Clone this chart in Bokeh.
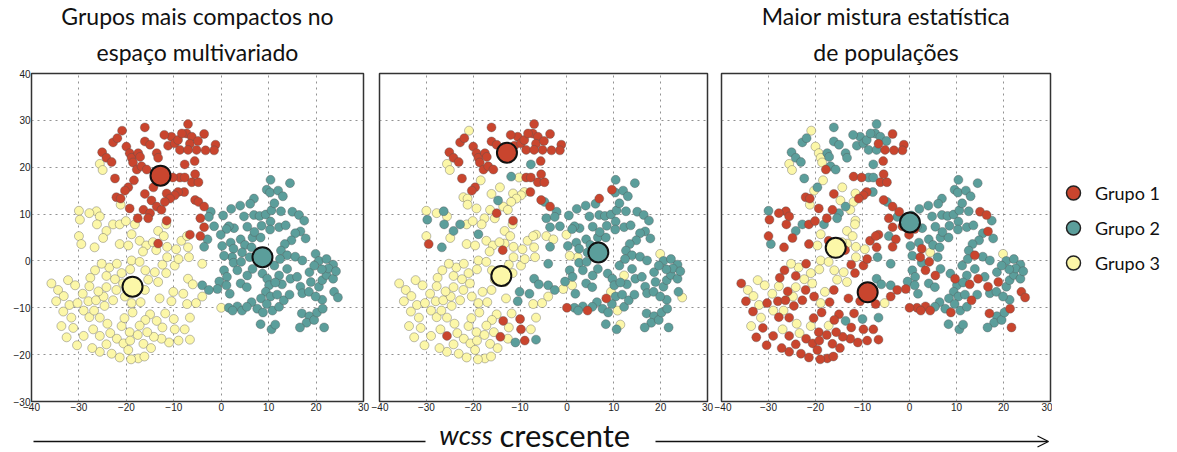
from bokeh.plotting import figure
from bokeh.models import Range1d, Label, Legend, LegendItem, Arrow, OpenHead, FixedTicker, Title
from bokeh.layouts import row, column
from bokeh.embed import file_html
from bokeh.resources import INLINE

# ---------------- data ----------------
# points of the multivariate space (same cloud in all three panels)
# panel-1 group 1 (red) region
g1_x = [-20.9, -22.8, -21.9, -20.0, -16.1, -16.1, -15.0, -11.2, -10.5, -9.8,
        -9.1, -7.0, -7.3, -6.2, -6.6, -4.9, -8.3, -3.6, -1.2, -12.0,
        -25.1, -24.2, -23.1, -19.3, -18.9, -17.5, -18.6, -17.8, -16.8, -15.7,
        -17.1, -13.6, -13.3, -8.7, -5.2, -7.0, -7.7, -5.6, -1.5, -3.3,
        -8.7, -7.7, -6.2, -4.8, -5.5, -11.9, -10.2, -22.4, -19.6, -20.3,
        -18.4, -14.3, -16.1, -7.8, -9.1, -9.8, -11.5, -22.1, -21.2, -5.5,
        -4.8, -3.6, -10.8, -11.9, -14.7, -13.6, -12.6, -16.4, -15.0, -19.3,
        -15.4, -17.6, -11.5, -4.4, -3.6, -4.4, -6.6, -13.3]
g1_y = [27.8, 25.3, 26.2, 24.4, 28.5, 25.5, 24.8, 24.6, 26.5, 25.1,
        25.8, 29.2, 27.2, 26.5, 25.0, 25.6, 27.2, 27.1, 24.8, 26.9,
        23.2, 22.0, 21.1, 23.0, 22.0, 23.0, 21.0, 19.5, 20.2, 19.5,
        22.2, 23.0, 22.0, 23.7, 23.7, 23.7, 20.6, 21.3, 23.6, 23.6,
        17.8, 17.8, 16.8, 16.8, 18.5, 18.0, 17.8, 17.6, 15.7, 15.0,
        17.2, 15.7, 14.3, 14.7, 14.7, 14.0, 14.4, 13.6, 13.3, 13.0,
        12.6, 11.6, 13.3, 12.6, 12.9, 11.6, 10.9, 10.9, 10.2, 11.2,
        9.1, 9.1, 8.6, 9.1, 7.2, 5.3, 5.6, 3.7]

# panel-1 group 2 (teal) region
g2_x = [10.4, 14.5, 9.6, 10.3, 12.0, 13.0, 6.9, 6.1, 4.0, 2.1,
        0.4, 4.8, 6.9, 8.1, 9.4, 10.6, 11.2, 10.4, 10.3, 12.2,
        13.6, 15.0, 16.4, 17.5, 16.7, 17.8, 15.6, 14.8, 13.4, 12.6,
        13.9, 15.6, 19.9, 20.6, 22.2, 2.7, 1.6, 1.1, -1.5, -0.1,
        0.2, 2.0, 2.6, 4.1, 5.0, 6.6, 8.3, 6.4, 4.4, 2.3,
        -2.2, -2.6, -2.9, -3.6, 5.5, 8.5, 7.0, 12.6, 0.6, 2.6,
        4.2, 6.0, 0.6, 1.2, -0.4, -0.8, -4.0, -2.6, 1.8, 1.1,
        3.4, 4.1, 5.4, 5.5, 6.6, 8.7, 9.7, 10.1, 9.4, 10.4,
        11.8, 8.4, 9.6, 7.6, 8.8, 6.4, 10.8, 12.2, 13.2, 14.4,
        12.2, 12.8, 13.9, 14.6, 11.2, 12.4, 17.1, 16.0, 16.7, 17.1,
        18.5, 18.9, 18.6, 20.6, 21.3, 21.3, 22.2, 23.6, 23.8, 24.6,
        23.6, 22.6, 21.2, 24.2, 19.6, 17.0, 18.6, 18.0, 19.6, 20.2,
        21.4, 21.7, 16.6, 8.3, 10.6, 11.4, 3.4, 4.4, 5.4, 1.6,
        2.4, 19.9, 11.4]
g2_y = [17.3, 16.6, 15.2, 14.6, 15.0, 13.8, 13.3, 12.2, 11.8, 11.1,
        9.7, 9.5, 9.8, 9.6, 9.9, 10.8, 12.3, 8.4, 6.7, 7.2,
        7.6, 10.5, 9.8, 8.6, 6.3, 4.8, 5.9, 4.4, 3.6, 2.2,
        1.2, 0.9, 1.5, 0.0, 0.4, 7.0, 7.4, 6.8, 7.4, 5.6,
        3.2, 3.9, 2.6, 4.6, 3.4, 5.0, 5.0, 2.9, 1.8, 0.8,
        10.5, 9.4, 4.6, 3.0, 7.3, 7.5, 6.2, 10.6, 1.1, -0.4,
        -0.2, 0.8, -2.0, -3.4, -4.4, -6.0, -5.2, -6.2, -7.0, -5.2,
        -2.0, -4.8, -5.6, -3.1, -1.7, -2.7, -3.8, -5.2, -6.6, -7.6,
        -7.2, -8.0, -9.2, -10.2, -11.0, -8.8, -10.6, -9.8, -8.4, -7.2,
        -3.1, -5.0, -1.7, -3.8, -1.0, 0.4, 0.1, -3.4, -5.5, -6.9,
        -6.6, -4.5, -2.4, -5.5, -4.1, -8.3, -3.0, -3.8, -6.6, -7.8,
        -0.8, -1.6, -1.8, -2.2, -1.0, -11.2, -11.8, -13.2, -12.6, -11.0,
        -10.2, -14.2, -14.2, -13.5, -14.6, -13.6, -9.7, -10.6, -9.8, -10.0,
        -10.6, -7.6, -4.6]

# panel-1 group 3 (yellow) region
g3_x = [-25.6, -25.0, -30.0, -29.8, -30.0, -29.5, -26.3, -25.6, -26.2, -24.2,
        -24.9, -22.8, -21.4, -20.1, -18.2, -18.9, -21.4, -19.6, -17.2, -15.8,
        -14.4, -13.3, -12.1, -11.6, -8.4, -7.2, -7.0, -26.7, -13.7, -16.5,
        -27.8, -21.2, -11.4, -9.5, -35.8, -34.4, -33.2, -34.8, -32.0, -32.3,
        -30.8, -29.2, -31.6, -33.3, -33.7, -31.2, -32.6, -30.3, -29.0, -27.8,
        -28.0, -26.8, -26.4, -24.6, -24.8, -25.9, -24.2, -25.6, -24.0, -27.0,
        -29.0, -25.6, -23.4, -22.0, -24.2, -25.6, -23.1, -21.4, -20.6, -19.6,
        -19.3, -21.0, -20.4, -18.7, -18.9, -20.3, -20.7, -22.1, -22.4, -24.2,
        -23.6, -22.0, -21.0, -26.6, -27.6, -25.2, -18.9, -19.2, -17.2, -16.0,
        -15.4, -16.1, -18.0, -17.0, -14.0, -12.4, -11.6, -9.8, -13.3, -10.1,
        -10.5, -8.0, -7.2, -7.0, -6.8, -9.0, -11.4, -15.0, -16.0, -13.6,
        -11.8, -10.0, -12.4, -9.8, -7.7, -6.6, -6.6, -9.0, -11.0, -12.6,
        -14.2, -15.6, -17.2, -17.6, -19.2, -16.4, -14.8, -17.5, -19.0, -16.2,
        -5.3, -4.0, -4.0, 0.0, -30.4, -27.2, -22.8, -27.8, -13.0, -6.0]
g3_y = [20.7, 19.4, 10.7, 8.8, 5.3, 3.6, 10.6, 9.5, 7.8, 6.4,
        4.9, 7.8, 7.8, 8.5, 7.8, 5.7, 3.6, 3.3, 4.3, 3.3,
        4.0, 6.4, 5.3, 7.8, 4.3, 5.3, 2.9, 2.9, 2.3, 2.0,
        10.2, 12.0, 3.0, 2.5, -4.8, -6.2, -7.5, -8.6, -9.4, -4.1,
        -5.2, -7.0, -12.1, -10.8, -13.9, -14.3, -16.3, -9.0, -10.6, -12.0,
        -8.6, -10.6, -8.4, -9.6, -7.6, -6.5, -5.6, -12.1, -13.4, -14.6,
        -16.0, -16.0, -15.4, -16.6, -17.8, -19.4, -19.8, -20.6, -17.6, -19.0,
        -15.2, -13.9, -12.2, -11.0, -9.0, -7.6, -4.8, -6.2, -3.9, -3.2,
        -1.4, -0.6, -2.6, -2.0, -3.6, -0.6, 0.1, -1.8, -0.2, -2.0,
        -4.0, -6.2, -6.6, -8.8, -2.4, -0.8, -2.6, -1.0, -4.5, -6.6,
        -8.6, -7.0, -9.2, -3.8, 0.8, 0.4, 0.8, -11.4, -12.6, -12.8,
        -11.2, -12.4, -14.2, -14.6, -14.6, -12.1, -16.8, -17.0, -17.4, -16.6,
        -16.2, -15.2, -13.8, -15.8, -17.0, -17.7, -18.6, -20.8, -21.0, -20.4,
        -9.0, -7.6, -0.6, -10.0, -18.0, -18.6, -8.4, -5.4, -8.0, -5.0]

# group labels of every point in panels 2 and 3 (1 = Grupo 1, 2 = Grupo 2, 3 = Grupo 3)
g1_lab_p2 = "3111111111 1111111111 1111111111 1111112111 1111123111 3331333331 2133233313 33122333"
g1_lab_p3 = "3223222222 2222122112 2223323122 2222122111 2211111223 3312113111 2113323121 21311213"
g2_lab_p2 = ("2212221222 2222222222 2222222222 2232222223 2222222223 2232222232 2222232223 "
             "2222222232 2122223222 3222222222 2222222223 2222222222 2222232122 222")
g2_lab_p3 = ("2222222222 2222222222 2112122222 1232222111 2212222231 1211222222 1222212122 "
             "1221221222 2222122212 2121222212 2122222211 2222212222 1122221121 122")
g3_lab_p2 = ("3332312322 3233323333 3333333213 3333333333 3333333333 3333333333 3133333333 "
             "3333333333 3333333333 3333333332 2232333331 3131332123 1333333333 3321333332")
g3_lab_p3 = ("3321121112 1211231313 3333111113 1333133133 3331311131 1311313133 1131111111 "
             "1311313131 3131133333 3131311132 1112213112 1211121111 1131111111 3121111312")

# centroids (Grupo 1, Grupo 2, Grupo 3) per panel
cent_x_p1 = [-12.8, 8.7, -18.7]
cent_y_p1 = [18.2, 0.8, -5.5]
cent_x_p2 = [-12.8, 6.7, -14.0]
cent_y_p2 = [23.1, 1.8, -3.2]
cent_x_p3 = [-8.9, 0.1, -15.7]
cent_y_p3 = [-6.7, 8.2, 2.8]

group_names = ["Grupo 1", "Grupo 2", "Grupo 3"]
x_ticks = [-40, -30, -20, -10, 0, 10, 20, 30]
y_ticks = [-30, -20, -10, 0, 10, 20, 30, 40]

title_left = ["Grupos mais compactos no", "espaço multivariado"]
title_right = ["Maior mistura estatística", "de populações"]
bottom_text = ["wcss", "crescente"]

# ---------------- style ----------------
COLORS = {"1": "#c9452e", "2": "#5b9e9b", "3": "#fcf7a8"}
FONT = "Lato"
TICK_FONT = "Liberation Sans"
PANEL_H = 416


def clean(s, n, default):
    s = s.replace(" ", "")
    return (s + default * n)[:n]


xs_all = g1_x + g2_x + g3_x
ys_all = g1_y + g2_y + g3_y
lab_p1 = "1" * len(g1_x) + "2" * len(g2_x) + "3" * len(g3_x)
lab_p2 = clean(g1_lab_p2, len(g1_x), "1") + clean(g2_lab_p2, len(g2_x), "2") + clean(g3_lab_p2, len(g3_x), "3")
lab_p3 = clean(g1_lab_p3, len(g1_x), "1") + clean(g2_lab_p3, len(g2_x), "2") + clean(g3_lab_p3, len(g3_x), "3")


def make_panel(width, bl, br, bt, bb, show_y):
    p = figure(width=width, height=PANEL_H, x_range=Range1d(-40, 30), y_range=Range1d(-30, 40),
               output_backend="svg", toolbar_location=None,
               y_axis_location="left" if show_y else None,
               min_border_left=bl, min_border_right=br, min_border_top=bt, min_border_bottom=bb)
    p.xaxis.ticker = FixedTicker(ticks=x_ticks)
    if show_y:
        p.yaxis.ticker = FixedTicker(ticks=y_ticks)
    for ax in p.axis:
        ax.axis_line_color = None
        ax.major_tick_line_color = None
        ax.minor_tick_line_color = None
        ax.major_tick_in = 0
        ax.major_tick_out = 0
        ax.major_label_standoff = 1
        ax.major_label_text_font = TICK_FONT
        ax.major_label_text_font_size = "10px"
        ax.major_label_text_color = "#222222"
    p.xgrid.ticker = FixedTicker(ticks=x_ticks[1:-1])
    p.ygrid.ticker = FixedTicker(ticks=y_ticks[1:-1])
    p.grid.grid_line_color = "#777777"
    p.grid.grid_line_alpha = 0.8
    p.grid.grid_line_dash = "2 4"
    p.grid.grid_line_width = 1
    p.outline_line_color = "#333333"
    p.outline_line_width = 1.5
    p.background_fill_color = "white"
    p.border_fill_color = "white"
    return p


def draw_points(p, labels, cx, cy):
    for g in ["3", "2", "1"]:
        px = [x for x, l in zip(xs_all, labels) if l == g]
        py = [y for y, l in zip(ys_all, labels) if l == g]
        p.scatter(px, py, size=9, fill_color=COLORS[g], line_color="#555555",
                  line_alpha=0.55, line_width=0.7)
    for i, g in enumerate(["1", "2", "3"]):
        p.scatter([cx[i]], [cy[i]], size=20, fill_color=COLORS[g], line_color="#111111", line_width=2)


p1 = make_panel(371, 31, 8, 69, 13, True)
p2 = make_panel(343, 8, 7, 73, 15, False)
p3 = make_panel(338, 7, 2, 73, 15, False)

draw_points(p1, lab_p1, cent_x_p1, cent_y_p1)
draw_points(p2, lab_p2, cent_x_p2, cent_y_p2)
draw_points(p3, lab_p3, cent_x_p3, cent_y_p3)


def add_titles(p, lines):
    # first added sits nearest to the frame
    p.add_layout(Title(text=lines[1], align="center", text_font=FONT, text_font_size="23px",
                       text_font_style="normal", text_color="#111111", standoff=15), "above")
    p.add_layout(Title(text=lines[0], align="center", text_font=FONT, text_font_size="23px",
                       text_font_style="normal", text_color="#111111", standoff=-3), "above")


add_titles(p1, title_left)
add_titles(p3, title_right)

# legend in its own narrow figure
pl = figure(width=125, height=PANEL_H, x_range=Range1d(0, 1), y_range=Range1d(0, 1),
            output_backend="svg", toolbar_location=None, min_border=0,
            x_axis_location=None, y_axis_location=None)
pl.grid.visible = False
pl.outline_line_color = None
items = []
for g, name in zip(["1", "2", "3"], group_names):
    r = pl.scatter(x=[float("nan")], y=[float("nan")], size=17, fill_color=COLORS[g],
                   line_color="#222222", line_width=1.5)
    items.append(LegendItem(label=name, renderers=[r]))
legend = Legend(items=items, location=(3, 121), glyph_width=36, glyph_height=35,
                label_height=35, spacing=0, padding=0, margin=0, border_line_color=None,
                background_fill_alpha=0, label_text_font=FONT, label_text_font_size="18px",
                label_text_color="#111111", label_standoff=4)
pl.add_layout(legend)

# bottom arrow
BH = 452 - PANEL_H
pb = figure(width=1177, height=BH, x_range=Range1d(0, 1177), y_range=Range1d(0, BH),
            output_backend="svg", toolbar_location=None, min_border=0,
            x_axis_location=None, y_axis_location=None)
pb.grid.visible = False
pb.outline_line_color = None
pb.add_layout(Arrow(end=None, x_start=33, y_start=11, x_end=425, y_end=11,
                    line_width=1.3, line_color="#111111"))
pb.add_layout(Arrow(end=OpenHead(size=11, line_width=1.3, line_color="#111111"),
                    x_start=655, y_start=11, x_end=1048, y_end=11,
                    line_width=1.3, line_color="#111111"))
pb.add_layout(Label(x=492, y=18, text=bottom_text[0], text_align="right", text_baseline="middle",
                    text_font=FONT, text_font_style="italic", text_font_size="27px", text_color="#111111"))
pb.add_layout(Label(x=499, y=18, text=bottom_text[1], text_align="left", text_baseline="middle",
                    text_font=FONT, text_font_size="31px", text_color="#111111"))

layout = column(row(p1, p2, p3, pl), pb)
open("out.html", "w").write(file_html(layout, INLINE))
